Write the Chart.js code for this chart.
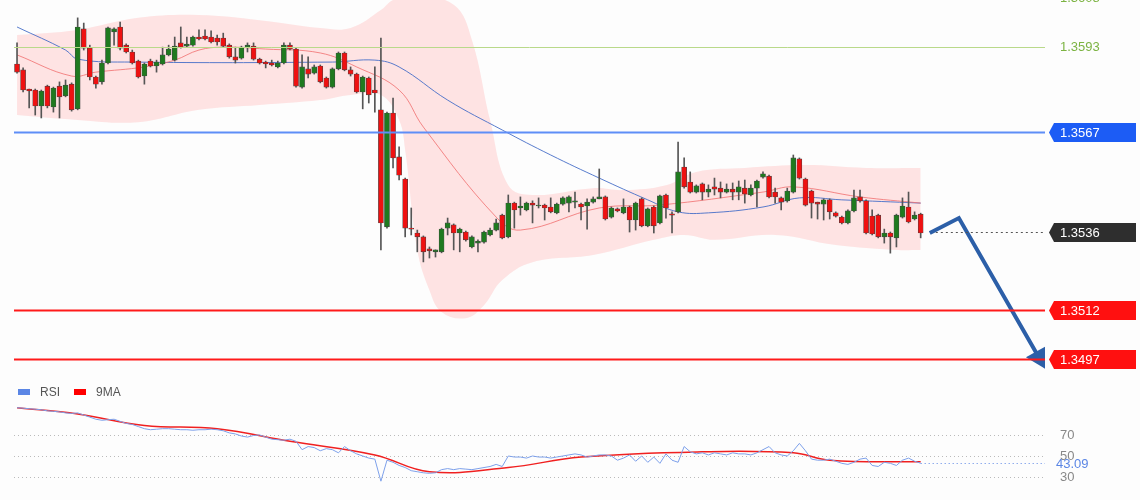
<!DOCTYPE html>
<html><head><meta charset="utf-8">
<script src="https://cdn.jsdelivr.net/npm/chart.js@4"></script>
<style>
html,body{margin:0;padding:0;background:#fdfdfd;width:1140px;height:500px;overflow:hidden;font-family:"Liberation Sans",Arial,sans-serif}
#c1{position:absolute;left:0;top:0}
#c2{position:absolute;left:0;top:375px}
</style></head><body>
<canvas id="c1" width="1140" height="375"></canvas>
<canvas id="c2" width="1140" height="125"></canvas>
<script>
// candles: [open, high, low, close]
const candles = [
[1.35878,1.35943,1.35850,1.35853],[1.35860,1.35866,1.35792,1.35798],[1.35798,1.35801,1.35743,1.35795],[1.35798,1.35801,1.35721,1.35749],
[1.35749,1.35798,1.35712,1.35795],[1.35810,1.35813,1.35743,1.35749],[1.35746,1.35807,1.35730,1.35804],[1.35810,1.35823,1.35712,1.35777],
[1.35780,1.35829,1.35777,1.35813],[1.35816,1.35820,1.35733,1.35737],[1.35740,1.36020,1.35737,1.35992],[1.35986,1.36004,1.35921,1.35927],
[1.35927,1.35936,1.35829,1.35838],[1.35838,1.35841,1.35804,1.35816],[1.35823,1.35890,1.35816,1.35881],[1.35881,1.35992,1.35878,1.35989],
[1.35977,1.35989,1.35936,1.35986],[1.35992,1.36007,1.35921,1.35927],[1.35936,1.35940,1.35912,1.35915],[1.35915,1.35921,1.35878,1.35881],
[1.35887,1.35890,1.35835,1.35838],[1.35841,1.35881,1.35816,1.35878],[1.35887,1.35893,1.35869,1.35872],[1.35872,1.35890,1.35853,1.35884],
[1.35878,1.35930,1.35875,1.35906],[1.35906,1.35936,1.35903,1.35924],[1.35890,1.35961,1.35887,1.35933],[1.35943,1.35992,1.35927,1.35930],
[1.35933,1.35961,1.35930,1.35936],[1.35936,1.35964,1.35933,1.35961],[1.35961,1.35983,1.35952,1.35955],[1.35964,1.35983,1.35952,1.35955],
[1.35961,1.35980,1.35943,1.35946],[1.35958,1.35967,1.35936,1.35946],[1.35958,1.35973,1.35930,1.35933],[1.35936,1.35940,1.35896,1.35900],
[1.35900,1.35930,1.35881,1.35890],[1.35896,1.35933,1.35893,1.35930],[1.35930,1.35943,1.35915,1.35933],[1.35933,1.35943,1.35890,1.35893],
[1.35893,1.35896,1.35878,1.35881],[1.35881,1.35887,1.35866,1.35878],[1.35881,1.35890,1.35872,1.35875],[1.35869,1.35887,1.35866,1.35881],
[1.35881,1.35943,1.35878,1.35936],[1.35936,1.35943,1.35921,1.35924],[1.35924,1.35927,1.35807,1.35810],[1.35807,1.35906,1.35804,1.35869],
[1.35863,1.35900,1.35835,1.35847],[1.35850,1.35875,1.35847,1.35869],[1.35872,1.35875,1.35820,1.35823],[1.35835,1.35838,1.35804,1.35807],
[1.35807,1.35866,1.35804,1.35863],[1.35863,1.35915,1.35860,1.35912],[1.35912,1.35915,1.35857,1.35860],[1.35860,1.35869,1.35841,1.35847],
[1.35847,1.35850,1.35789,1.35792],[1.35792,1.35841,1.35740,1.35838],[1.35835,1.35838,1.35758,1.35783],[1.35798,1.35869,1.35730,1.35789],
[1.35737,1.35958,1.35306,1.35389],[1.35377,1.35730,1.35373,1.35727],[1.35727,1.35773,1.35558,1.35589],[1.35592,1.35623,1.35521,1.35536],
[1.35524,1.35527,1.35346,1.35373],[1.35373,1.35435,1.35352,1.35370],[1.35358,1.35367,1.35300,1.35346],[1.35346,1.35349,1.35269,1.35300],
[1.35306,1.35315,1.35281,1.35303],[1.35300,1.35306,1.35284,1.35306],[1.35300,1.35373,1.35297,1.35370],[1.35373,1.35404,1.35352,1.35389],
[1.35383,1.35386,1.35306,1.35358],[1.35358,1.35373,1.35300,1.35370],[1.35361,1.35364,1.35333,1.35337],[1.35315,1.35349,1.35312,1.35346],
[1.35327,1.35337,1.35300,1.35330],[1.35330,1.35364,1.35327,1.35361],[1.35352,1.35373,1.35349,1.35367],[1.35367,1.35401,1.35364,1.35389],
[1.35413,1.35416,1.35340,1.35343],[1.35346,1.35475,1.35343,1.35450],[1.35450,1.35453,1.35373,1.35429],[1.35435,1.35469,1.35413,1.35438],
[1.35429,1.35453,1.35426,1.35450],[1.35450,1.35457,1.35389,1.35444],[1.35441,1.35466,1.35435,1.35444],[1.35444,1.35447,1.35398,1.35435],
[1.35438,1.35466,1.35420,1.35423],[1.35420,1.35450,1.35417,1.35447],[1.35447,1.35469,1.35444,1.35466],[1.35450,1.35472,1.35423,1.35469],
[1.35453,1.35484,1.35435,1.35457],[1.35447,1.35450,1.35398,1.35438],[1.35441,1.35463,1.35370,1.35453],[1.35453,1.35469,1.35450,1.35463],
[1.35463,1.35555,1.35463,1.35466],[1.35469,1.35472,1.35398,1.35401],[1.35407,1.35438,1.35404,1.35435],[1.35432,1.35435,1.35423,1.35426],
[1.35420,1.35463,1.35417,1.35438],[1.35438,1.35441,1.35361,1.35398],[1.35398,1.35453,1.35367,1.35450],[1.35463,1.35466,1.35377,1.35380],
[1.35380,1.35435,1.35377,1.35432],[1.35438,1.35441,1.35358,1.35380],[1.35389,1.35475,1.35386,1.35472],[1.35475,1.35478,1.35404,1.35435],
[1.35417,1.35423,1.35358,1.35413],[1.35423,1.35638,1.35420,1.35546],[1.35561,1.35589,1.35496,1.35500],[1.35515,1.35546,1.35481,1.35484],
[1.35484,1.35506,1.35481,1.35503],[1.35509,1.35512,1.35460,1.35484],[1.35484,1.35506,1.35469,1.35493],[1.35500,1.35527,1.35475,1.35493],
[1.35496,1.35515,1.35466,1.35484],[1.35484,1.35509,1.35481,1.35493],[1.35493,1.35512,1.35460,1.35484],[1.35484,1.35518,1.35460,1.35500],
[1.35496,1.35521,1.35450,1.35478],[1.35475,1.35506,1.35472,1.35496],[1.35496,1.35521,1.35438,1.35518],[1.35530,1.35546,1.35527,1.35540],
[1.35533,1.35536,1.35466,1.35469],[1.35484,1.35496,1.35450,1.35469],[1.35466,1.35469,1.35429,1.35453],[1.35457,1.35496,1.35453,1.35487],
[1.35484,1.35598,1.35481,1.35589],[1.35586,1.35589,1.35524,1.35527],[1.35524,1.35527,1.35441,1.35444],[1.35487,1.35490,1.35404,1.35450],
[1.35450,1.35453,1.35401,1.35447],[1.35447,1.35463,1.35398,1.35460],[1.35460,1.35463,1.35401,1.35423],[1.35420,1.35423,1.35407,1.35410],
[1.35407,1.35410,1.35386,1.35389],[1.35389,1.35429,1.35386,1.35426],[1.35426,1.35490,1.35423,1.35466],[1.35469,1.35490,1.35453,1.35457],
[1.35457,1.35460,1.35355,1.35358],[1.35410,1.35429,1.35352,1.35355],[1.35413,1.35416,1.35343,1.35346],[1.35346,1.35370,1.35327,1.35358],
[1.35358,1.35361,1.35296,1.35346],[1.35343,1.35416,1.35315,1.35413],[1.35407,1.35466,1.35404,1.35441],[1.35438,1.35484,1.35389,1.35392],
[1.35401,1.35423,1.35398,1.35413],[1.35416,1.35419,1.35343,1.35358]
];
// moving averages / bands: [candleIndex, value]
const maFast = [[0,1.35906],[9,1.35841],[13,1.35853],[21,1.35869],[26,1.35890],[30,1.35921],[34,1.35930],[41,1.35924],[50,1.35912],[56,1.35869],[63,1.35798],[67,1.35684],[79,1.35407],[83,1.35367],[96,1.35435],[106,1.35444],[123,1.35484],[128,1.35500],[139,1.35469],[149,1.35450]];
const maSlow = [[0,1.35992],[8,1.35921],[10,1.35893],[19,1.35884],[52,1.35884],[59,1.35890],[63,1.35869],[71,1.35767],[80,1.35675],[88,1.35598],[96,1.35527],[104,1.35460],[109,1.35423],[114,1.35420],[123,1.35438],[129,1.35466],[136,1.35460],[149,1.35450]];
const bandUpper = [[0,1.35967],[10,1.35983],[20,1.36020],[30,1.36029],[40,1.36013],[50,1.35989],[55,1.35989],[60,1.36044],[62,1.36075],[65,1.36090],[72,1.36060],[75,1.35952],[78,1.35706],[81,1.35505],[85,1.35475],[95,1.35496],[100,1.35490],[107,1.35505],[112,1.35546],[120,1.35558],[130,1.35567],[140,1.35558],[149,1.35558]];
const bandLower = [[0,1.35721],[10,1.35706],[20,1.35699],[30,1.35737],[40,1.35752],[50,1.35767],[55,1.35783],[60,1.35783],[63,1.35706],[64,1.35613],[66,1.35306],[68,1.35182],[70,1.35115],[74,1.35096],[77,1.35136],[80,1.35213],[85,1.35268],[95,1.35290],[105,1.35337],[110,1.35352],[115,1.35337],[125,1.35352],[135,1.35321],[145,1.35306],[149,1.35306]];
const levels = [
  {v:1.3608, text:'1.3608', kind:'green'},
  {v:1.3593, text:'1.3593', kind:'green'},
  {v:1.3567, text:'1.3567', kind:'blue'},
  {v:1.3536, text:'1.3536', kind:'dark'},
  {v:1.3512, text:'1.3512', kind:'red'},
  {v:1.3497, text:'1.3497', kind:'red'}
];
const arrowPath = [[150.5,1.35358],[155.3,1.35404],[168.5,1.34975]];
const rsi = [96,95.5,95,94.5,94,93,92.5,92,91,90.5,91,89,87,85,84,84.5,85,83,81,80,
78,76,75,75.5,76,76,75.5,75,75,74.5,75,75,75.5,75,74,72,71,69,68,69.5,
70,68,66,65.5,65,66,64,56,59,58,55,57,56,53,59,55,52,50,48,47,
26,46,44,41,39,36,35,34,33.5,34,37,38,37,38,37.5,37,38,39,40,42,
40,50,49,49,48,50,49,49,48,49,50,51,52,51,49,50,51,51,50,46,
48,51,45,50,44,49,43,52,46,44,59,54,52,53,51,53,52,51,53,52,
52,51,53,56,59,53,51,50,55,62,55,47,46,46,47,45,43,42,44,47,
48,41,40,44,43,41,46,48,45,43.09];
const rsiMA = [[0,96],[10,90],[21,79],[33,76],[45,64],[59,51],[68,35],[81,39],[93,49],[113,54],[128,53],[134,46],[149,44.4]];
const rsiLevels = [70,50,30];

const NSLOT = 170;
const labels = Array.from({length:NSLOT},(_,i)=>String(i));
const pts = a => a.map(p=>({x:p[0],y:p[1]}));
const up = c => c[3] >= c[0];
const GREEN='#1f7a1f', RED='#ee1111';

const levelPlugin = {
  id:'levels',
  afterDatasetsDraw(chart){
    const {ctx, chartArea:a, scales:{y}} = chart;
    ctx.save();
    levels.forEach(l=>{
      const py = Math.round(y.getPixelForValue(l.v))+0.5;
      ctx.setLineDash(l.kind==='dark'?[2,3]:[]);
      ctx.lineWidth = l.kind==='green'?1:(l.kind==='dark'?1:2);
      ctx.strokeStyle = {green:'#b9d98a',blue:'#5e8ef7',dark:'#555',red:'#ff1a1a'}[l.kind];
      const x0 = l.kind==='dark' ? chart.scales.xl.getPixelForValue(151.5) : a.left;
      if (l.text!=='1.3608'){ctx.beginPath();ctx.moveTo(x0,py);ctx.lineTo(a.right,py);ctx.stroke();}
      ctx.setLineDash([]);
      ctx.font = '13px "Liberation Sans", Arial';
      ctx.textBaseline='middle';
      if(l.kind==='green'){ctx.fillStyle='#7cb342';ctx.fillText(l.text,a.right+15,py);}
      else{
        const bx=a.right+4, h=19;
        ctx.fillStyle={blue:'#1c5cf5',dark:'#2e2e2e',red:'#ff1010'}[l.kind];
        ctx.beginPath();ctx.moveTo(bx,py);ctx.lineTo(bx+5,py-h/2);ctx.lineTo(1136,py-h/2);ctx.lineTo(1136,py+h/2);ctx.lineTo(bx+5,py+h/2);ctx.closePath();ctx.fill();
        ctx.fillStyle='#fff';ctx.fillText(l.text,a.right+15,py+1);
      }
    });
    ctx.restore();
  }
};

new Chart(document.getElementById('c1'),{
  type:'bar',
  data:{labels,datasets:[
    {type:'line',xAxisID:'xl',data:pts(bandUpper),borderWidth:0,pointRadius:0,tension:0.4,fill:'+1',backgroundColor:'rgba(255,190,190,0.42)',order:10},
    {type:'line',xAxisID:'xl',data:pts(bandLower),borderWidth:0,pointRadius:0,tension:0.4,fill:false,order:10},
    {type:'line',xAxisID:'xl',data:pts(maFast),borderColor:'rgba(240,110,110,0.8)',borderWidth:1,pointRadius:0,tension:0.4,order:9},
    {type:'line',xAxisID:'xl',data:pts(maSlow),borderColor:'rgba(70,110,200,0.9)',borderWidth:1,pointRadius:0,tension:0.4,order:9},
    {data:candles.map(c=>[c[2],c[1]]),backgroundColor:'#555',barThickness:1,grouped:false,order:5},
    {data:candles.map(c=>[Math.min(c[0],c[3]),Math.max(c[0],c[3])+ (Math.abs(c[0]-c[3])<0.00003?0.00003:0)]),
     backgroundColor:candles.map(c=>up(c)?GREEN:RED),borderColor:'#444',borderWidth:{left:0.6,right:0.6,top:0.6,bottom:0.6},borderSkipped:false,barThickness:5,grouped:false,order:4},
    {type:'line',xAxisID:'xl',data:pts(arrowPath),borderColor:'#2c5fa8',borderWidth:4,tension:0,order:1,
     pointRadius:[0,0,9],pointStyle:'triangle',rotation:[0,0,151],pointBackgroundColor:'#2c5fa8',pointBorderColor:'#2c5fa8'}
  ]},
  options:{animation:false,responsive:false,events:[],
    layout:{autoPadding:false,padding:{left:14,right:95,top:0,bottom:0}},
    plugins:{legend:{display:false},tooltip:{enabled:false}},
    scales:{
      x:{display:false,offset:true},
      xl:{type:'linear',display:false,offset:false,min:-0.5,max:NSLOT-0.5},
      y:{display:false,min:1.34921,max:1.36075}
    }},
  plugins:[levelPlugin]
});

const rsiPlugin = {
  id:'rsiDeco',
  beforeDatasetsDraw(chart){
    const {ctx, chartArea:a, scales:{y}} = chart;
    ctx.save();
    ctx.strokeStyle='#bbb';ctx.setLineDash([1,3]);ctx.lineWidth=1;
    rsiLevels.forEach(v=>{const py=Math.round(y.getPixelForValue(v))+0.5;ctx.beginPath();ctx.moveTo(a.left,py);ctx.lineTo(a.right,py);ctx.stroke();});
    const last = rsi[rsi.length-1];
    const ly = Math.round(y.getPixelForValue(last))+0.5;
    ctx.strokeStyle='#5b86e5';ctx.setLineDash([1,3]);
    ctx.beginPath();ctx.moveTo(chart.scales.x.getPixelForValue(rsi.length-1),ly);ctx.lineTo(a.right,ly);ctx.stroke();
    ctx.setLineDash([]);
    ctx.font='13px "Liberation Sans", Arial';ctx.textBaseline='middle';
    ctx.fillStyle='#888';
    rsiLevels.forEach(v=>ctx.fillText(String(v),a.right+15,y.getPixelForValue(v)));
    ctx.fillStyle='#5b86e5';ctx.fillText(last.toFixed(2),a.right+11,ly+1);
    // legend
    ctx.fillStyle='#5b86e5';ctx.fillRect(18,14,12,6);
    ctx.fillStyle='#555';ctx.font='12px "Liberation Sans", Arial';ctx.fillText('RSI',40,18);
    ctx.fillStyle='#f00';ctx.fillRect(74,14,12,6);
    ctx.fillStyle='#555';ctx.fillText('9MA',96,18);
    ctx.restore();
  }
};
new Chart(document.getElementById('c2'),{
  type:'line',
  data:{datasets:[
    {data:rsi.map((v,i)=>({x:i,y:v})),borderColor:'#7da0ea',borderWidth:1,pointRadius:0,tension:0},
    {data:pts(rsiMA),borderColor:'#f02020',borderWidth:1.5,pointRadius:0,tension:0.4}
  ]},
  options:{animation:false,responsive:false,events:[],
    layout:{autoPadding:false,padding:{left:14,right:95,top:0,bottom:0}},
    plugins:{legend:{display:false},tooltip:{enabled:false}},
    scales:{x:{type:'linear',display:false,min:-0.5,max:NSLOT-0.5},y:{display:false,min:8.1,max:127.1}}},
  plugins:[rsiPlugin]
});
</script></body></html>
